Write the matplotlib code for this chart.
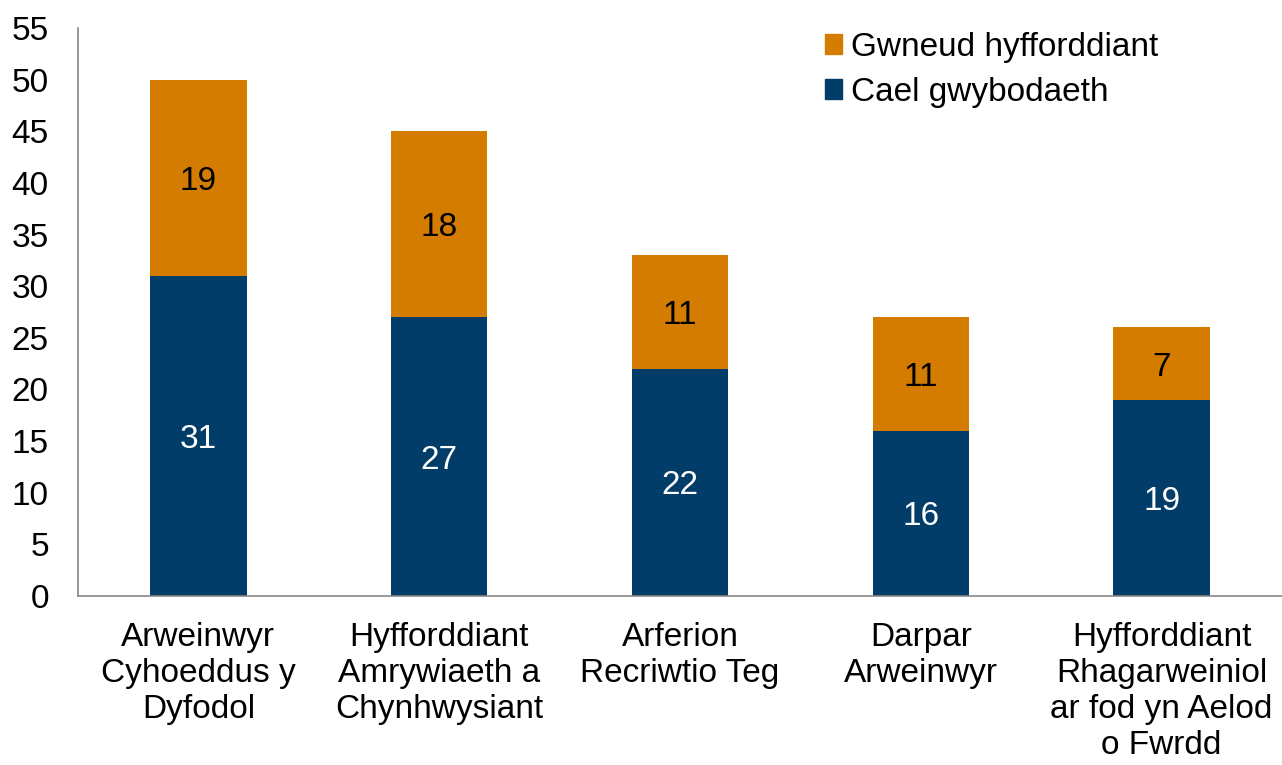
import matplotlib
matplotlib.use("Agg")
import matplotlib.pyplot as plt
from matplotlib.patches import Patch

categories = ["Arweinwyr\nCyhoeddus y\nDyfodol",
              "Hyfforddiant\nAmrywiaeth a\nChynhwysiant",
              "Arferion\nRecriwtio Teg",
              "Darpar\nArweinwyr",
              "Hyfforddiant\nRhagarweiniol\nar fod yn Aelod\no Fwrdd"]
cael = [31, 27, 22, 16, 19]
gwneud = [19, 18, 11, 11, 7]
series_names = ["Gwneud hyfforddiant", "Cael gwybodaeth"]

navy = "#023C69"
orange = "#D47C00"
fs = 24

plt.rcParams['font.family'] = ['Liberation Sans', 'DejaVu Sans']

fig = plt.figure(figsize=(12.82, 7.65), dpi=100)
W, H = 1282, 765
ax = fig.add_axes([78/W, (H-596)/H, (W-78)/W, (596-28)/H])

x = list(range(len(categories)))
ax.bar(x, cael, width=0.4, color=navy)
ax.bar(x, gwneud, width=0.4, bottom=cael, color=orange)

for i in x:
    ax.annotate(str(cael[i]), (i, cael[i]/2), xytext=(0, -2.5), textcoords='offset points',
                ha='center', va='center', color='white', fontsize=fs)
    ax.annotate(str(gwneud[i]), (i, cael[i] + gwneud[i]/2), xytext=(0, -2.5), textcoords='offset points',
                ha='center', va='center', color='black', fontsize=fs)

ax.set_xlim(-0.5, 4.5)
ax.set_ylim(0, 55)
ax.set_yticks(range(0, 56, 5))
ax.set_xticks(x)
ax.set_xticklabels(categories, fontsize=fs, linespacing=1.2)
ax.tick_params(axis='y', length=0, pad=21, labelsize=fs)
ax.tick_params(axis='x', length=0, pad=19)
for s in ['top', 'right']:
    ax.spines[s].set_visible(False)
for s in ['left', 'bottom']:
    ax.spines[s].set_color('#888888')
    ax.spines[s].set_linewidth(1.2)

handles = [Patch(color=orange), Patch(color=navy)]
ax.legend(handles, series_names, loc='upper left',
          bbox_to_anchor=(825/W, (H-32)/H), bbox_transform=fig.transFigure,
          frameon=False, fontsize=fs, handlelength=0.52, handleheight=0.52,
          handletextpad=0.25, labelspacing=0.42, borderaxespad=0, borderpad=0)

fig.savefig("out.png", dpi=100)
